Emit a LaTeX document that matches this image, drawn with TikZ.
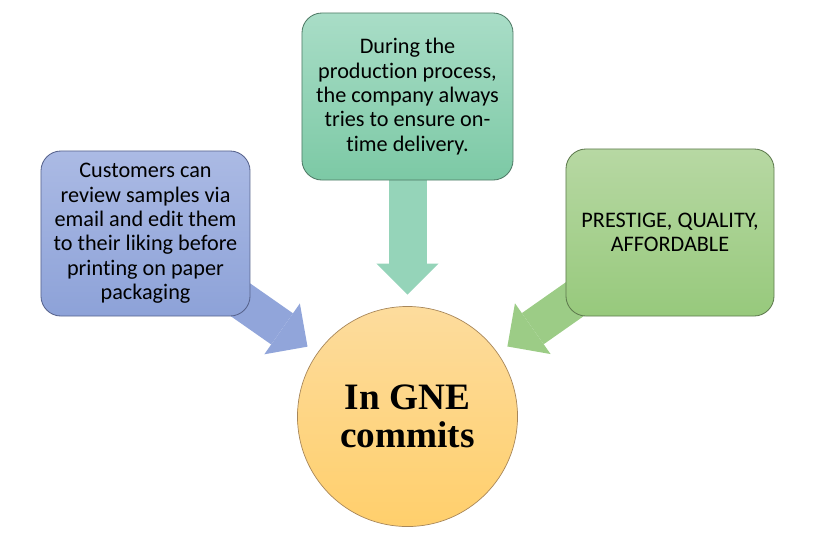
\documentclass[tikz,border=0pt]{standalone}
\usepackage{fontspec}
\setmainfont{Carlito}[Ligatures={NoCommon}]
\newfontfamily\gneserif{Liberation Serif}
\usetikzlibrary{arrows.meta, backgrounds}
\definecolor{blueTop}{HTML}{ABBAE4}
\definecolor{blueBot}{HTML}{8DA2D8}
\definecolor{blueLine}{HTML}{56628C}
\definecolor{blueArr}{HTML}{91A5DA}
\definecolor{tealTop}{HTML}{A9DDC7}
\definecolor{tealBot}{HTML}{7CC9A5}
\definecolor{tealLine}{HTML}{4F7A66}
\definecolor{tealArr}{HTML}{95D4B9}
\definecolor{leafTop}{HTML}{B7D8A3}
\definecolor{leafBot}{HTML}{97C97C}
\definecolor{leafLine}{HTML}{5E7A4E}
\definecolor{leafArr}{HTML}{9CCC86}
\definecolor{sunTop}{HTML}{FDDC9D}
\definecolor{sunBot}{HTML}{FFCF6C}
\definecolor{sunLine}{HTML}{A8875A}

\begin{document}
\begin{tikzpicture}[x=0.025cm, y=-0.025cm,
  box/.style={rectangle, rounded corners=0.5cm, align=center, inner sep=0pt,
    line width=0.6pt, font=\fontsize{15.8}{17.3}\selectfont},
  bluebox/.style={box, draw=blueLine, top color=blueTop, bottom color=blueBot,
    minimum width=5.225cm, minimum height=4.125cm},
  tealbox/.style={box, draw=tealLine, top color=tealTop, bottom color=tealBot,
    minimum width=5.275cm, minimum height=4.175cm},
  leafbox/.style={box, draw=leafLine, top color=leafTop, bottom color=leafBot,
    minimum width=5.2cm, minimum height=4.175cm},
  hub/.style={circle, draw=sunLine, line width=0.5pt, top color=sunTop, bottom color=sunBot,
    minimum size=5.5cm, inner sep=0pt, align=center,
    font=\gneserif\bfseries\fontsize{26.5}{27.2}\selectfont},
  blk/.style={line width=0.95cm, -{Triangle[length=0.775cm, width=1.55cm, line width=0pt]},
    shorten >=0.29cm, shorten <=-1.2cm}]
  \useasboundingbox (0,0) rectangle (813,547);
  % boxes round the hub
  \node[bluebox] (cust) at (145.5,233.5) {Customers can\\review samples via\\email and edit them\\to their liking before\\printing on paper\\packaging};
  \node[tealbox] (prod) at (407.5,96.5) {During the\\production process,\\the company always\\tries to ensure on-\\time delivery.};
  \node[leafbox] (pqa) at (670,232.5) {PRESTIGE, QUALITY,\\AFFORDABLE};
  \node[hub] (gne) at (407.5,416.5) {In GNE\\commits};
  % block arrows behind the boxes
  \begin{pgfonlayer}{background}
    \draw[blk, blueArr] (cust) -- (gne);
    \draw[blk, tealArr] (prod) -- (gne);
    \draw[blk, leafArr] (pqa) -- (gne);
  \end{pgfonlayer}
\end{tikzpicture}
\end{document}
